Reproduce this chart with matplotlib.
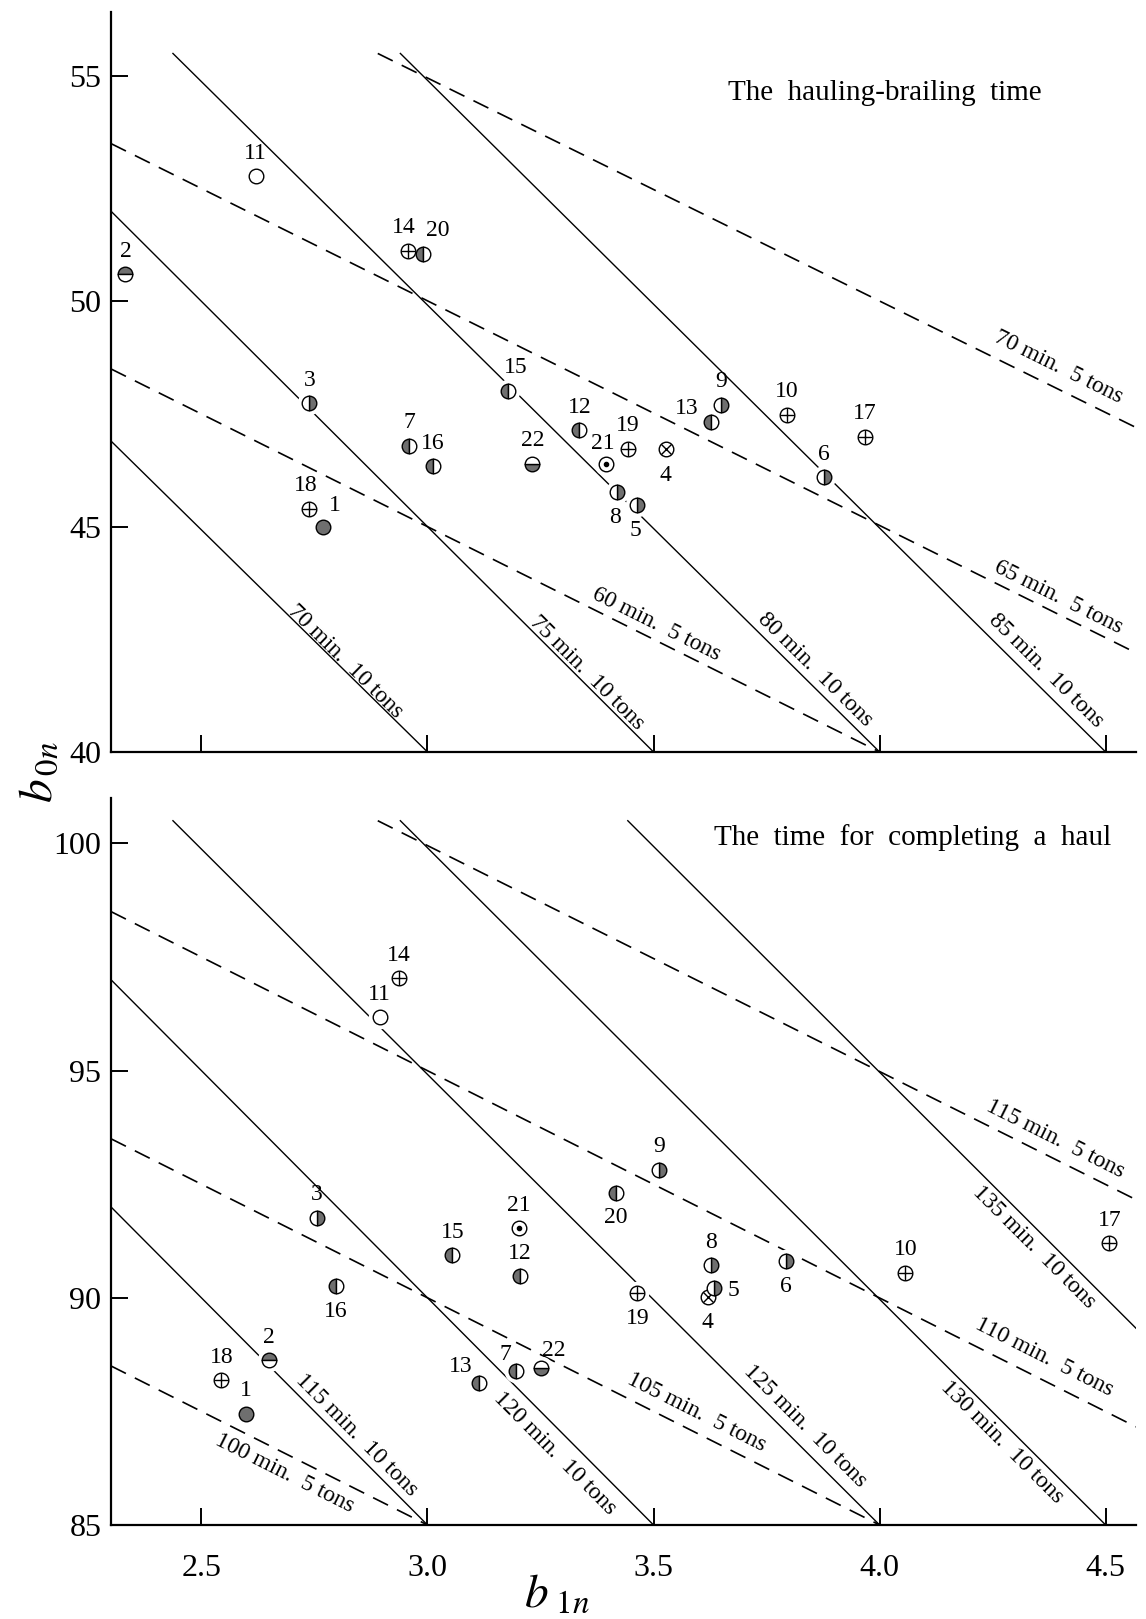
import matplotlib
matplotlib.use("Agg")
import matplotlib.pyplot as plt
import numpy as np

plt.rcParams['font.family'] = ['Liberation Serif', 'DejaVu Serif']
plt.rcParams['mathtext.fontset'] = 'stix'

# haul numbers and the symbol used for each haul
haul_ids = list(range(1, 23))
haul_marks = ["full", "top", "right", "xcross", "right", "right", "left", "right", "right", "plus", "open",
              "left", "left", "plus", "left", "left", "plus", "plus", "plus", "left", "dot", "bottom"]

# upper panel: the hauling-brailing time
hb_b1 = [2.769, 2.332, 2.739, 3.527, 3.464, 3.876, 2.960, 3.420, 3.649, 3.795, 2.620,
         3.336, 3.626, 2.957, 3.177, 3.012, 3.967, 2.737, 3.443, 2.989, 3.395, 3.232]
hb_b0 = [45.00, 50.60, 47.74, 46.72, 45.48, 46.10, 46.79, 45.76, 47.71, 47.48, 52.78,
         47.14, 47.33, 51.12, 48.02, 46.34, 47.00, 45.40, 46.73, 51.05, 46.38, 46.40]

# lower panel: the time for completing a haul
ch_b1 = [2.598, 2.649, 2.755, 3.620, 3.634, 3.792, 3.196, 3.626, 3.512, 4.057, 2.894,
         3.205, 3.115, 2.937, 3.055, 2.797, 4.508, 2.544, 3.464, 3.416, 3.203, 3.252]
ch_b0 = [87.45, 88.63, 91.76, 90.02, 90.22, 90.80, 88.40, 90.72, 92.82, 90.55, 96.17,
         90.48, 88.12, 97.03, 90.94, 90.25, 91.20, 88.19, 90.10, 92.31, 91.53, 88.45]

# iso-time lines (solid: 10 tons, dashed: 5 tons)
hb_line_text = ["70 min.  10 tons", "75 min.  10 tons", "80 min.  10 tons", "85 min.  10 tons",
                "60 min.  5 tons", "65 min.  5 tons", "70 min.  5 tons"]
hb_line_tons = [10, 10, 10, 10, 5, 5, 5]
hb_line_x0 = [2.30, 2.30, 2.437, 2.940, 2.30, 2.30, 2.890]
hb_line_y0 = [46.9, 52.0, 55.5, 55.5, 48.5, 53.5, 55.5]
hb_line_x1 = [3.0, 3.5, 4.0, 4.5, 4.0, 4.567, 4.567]
hb_line_y1 = [40.0, 40.0, 40.0, 40.0, 40.0, 42.2, 47.2]
hb_text_x = [2.819, 3.353, 3.858, 4.368, 3.506, 4.395, 4.395]
hb_text_y = [42.0, 41.75, 41.82, 41.81, 42.84, 43.44, 48.53]

ch_line_text = ["115 min.  10 tons", "120 min.  10 tons", "125 min.  10 tons", "130 min.  10 tons",
                "135 min.  10 tons", "100 min.  5 tons", "105 min.  5 tons", "110 min.  5 tons",
                "115 min.  5 tons"]
ch_line_tons = [10, 10, 10, 10, 10, 5, 5, 5, 5]
ch_line_x0 = [2.30, 2.30, 2.437, 2.940, 3.443, 2.30, 2.30, 2.30, 2.890]
ch_line_y0 = [92.0, 97.0, 100.5, 100.5, 100.5, 88.5, 93.5, 98.5, 100.5]
ch_line_x1 = [3.0, 3.5, 4.0, 4.5, 4.567, 3.0, 4.0, 4.567, 4.567]
ch_line_y1 = [85.0, 85.0, 85.0, 85.0, 89.33, 85.0, 85.0, 87.16, 92.16]
ch_text_x = [2.843, 3.282, 3.836, 4.271, 4.341, 2.683, 3.595, 4.365, 4.389]
ch_text_y = [86.98, 86.57, 87.17, 86.83, 91.12, 86.14, 87.49, 88.69, 93.5]

x_ticks = [2.5, 3.0, 3.5, 4.0, 4.5]
x_tick_labels = ["2.5", "3.0", "3.5", "4.0", "4.5"]

# label offsets (pixels) where the number is not just above the symbol
hb_offsets = {13: (-24, 13), 20: (15, 24), 14: (-4, 23), 15: (8, 23), 21: (-3, 21), 4: (0, -26),
              8: (-2, -25), 5: (-2, -25), 1: (12, 21), 18: (-3, 23)}
ch_offsets = {20: (0, -25), 6: (0, -25), 16: (0, -25), 5: (19, -3), 19: (0, -25), 4: (0, -26),
              22: (12, 18), 7: (-11, 16), 13: (-19, 17)}

shade = "#6f6f6f"
ms = 10.5


def draw_lines(ax, texts, tons, x0, y0, x1, y1, tx, ty):
    for i in range(len(texts)):
        if tons[i] == 10:
            ax.plot([x0[i], x1[i]], [y0[i], y1[i]], color="k", lw=1.0, zorder=2)
        else:
            ax.plot([x0[i], x1[i]], [y0[i], y1[i]], color="k", lw=1.2, ls=(0, (10, 6)), zorder=2)
        ang = np.degrees(np.arctan2(y1[i] - y0[i], x1[i] - x0[i]))
        ax.text(tx[i], ty[i], texts[i], rotation=ang, transform_rotates_text=True,
                rotation_mode="anchor", ha="center", va="center", fontsize=17, zorder=5)


def draw_hauls(ax, xs, ys, offsets):
    # white halo first so lines are broken around the symbols
    ax.plot(xs, ys, "o", ms=17, mfc="white", mec="none", ls="none", zorder=3)
    for i, kind in enumerate(haul_marks):
        x, y = xs[i], ys[i]
        if kind == "full":
            ax.plot(x, y, "o", ms=ms, mfc=shade, mec="k", mew=1.0, zorder=4)
        elif kind in ("left", "right", "top", "bottom"):
            ax.plot(x, y, "o", ms=ms, fillstyle=kind, mfc=shade, markerfacecoloralt="white",
                    mec="k", mew=1.0, zorder=4)
        else:
            ax.plot(x, y, "o", ms=ms, mfc="white", mec="k", mew=1.0, zorder=4)
            if kind == "plus":
                ax.plot(x, y, "+", ms=ms * 0.95, mec="k", mew=1.0, zorder=4)
            elif kind == "xcross":
                ax.plot(x, y, "x", ms=ms * 0.68, mec="k", mew=1.0, zorder=4)
            elif kind == "dot":
                ax.plot(x, y, "o", ms=3, mfc="k", mec="k", zorder=4)
        dx, dy = offsets.get(haul_ids[i], (0, 23))
        ax.annotate(str(haul_ids[i]), (x, y), xytext=(dx, dy), textcoords="offset pixels",
                    ha="center", va="center", fontsize=17, zorder=5)


def style_axes(ax, ylim, yticks):
    ax.set_xlim(2.3, 4.567)
    ax.set_ylim(*ylim)
    ax.spines["top"].set_visible(False)
    ax.spines["right"].set_visible(False)
    ax.spines["left"].set_linewidth(1.6)
    ax.spines["bottom"].set_linewidth(1.6)
    ax.set_xticks(x_ticks)
    ax.set_yticks(yticks)
    ax.tick_params(axis="y", direction="in", length=12, width=1.4, labelsize=23, pad=7)
    ax.tick_params(axis="x", direction="in", length=12, width=1.4, labelsize=23, pad=21)


fig = plt.figure(figsize=(11.46, 16.19), dpi=100)
ax_top = fig.add_axes([111 / 1146, (1619 - 752) / 1619, 1025 / 1146, 740 / 1619])
ax_bot = fig.add_axes([111 / 1146, (1619 - 1525) / 1619, 1025 / 1146, 727 / 1619])

draw_lines(ax_top, hb_line_text, hb_line_tons, hb_line_x0, hb_line_y0, hb_line_x1, hb_line_y1,
           hb_text_x, hb_text_y)
draw_hauls(ax_top, hb_b1, hb_b0, hb_offsets)
style_axes(ax_top, (40, 56.42), [40, 45, 50, 55])
ax_top.set_xticklabels([])
ax_top.text(0.755, 0.89, "The  hauling-brailing  time", transform=ax_top.transAxes,
            ha="center", va="center", fontsize=21)

draw_lines(ax_bot, ch_line_text, ch_line_tons, ch_line_x0, ch_line_y0, ch_line_x1, ch_line_y1,
           ch_text_x, ch_text_y)
draw_hauls(ax_bot, ch_b1, ch_b0, ch_offsets)
style_axes(ax_bot, (85, 101.0), [85, 90, 95, 100])
ax_bot.set_xticklabels(x_tick_labels)
ax_bot.text(0.782, 0.946, "The  time  for  completing  a  haul", transform=ax_bot.transAxes,
            ha="center", va="center", fontsize=21)

fig.text(40 / 1146, 1 - 772 / 1619, r"$b_{\,0n}$", rotation=90, fontsize=34, ha="center", va="center")
fig.text(557 / 1146, 1 - 1595 / 1619, r"$b_{\ 1n}$", fontsize=34, ha="center", va="center")

fig.savefig("out.png", dpi=100)
